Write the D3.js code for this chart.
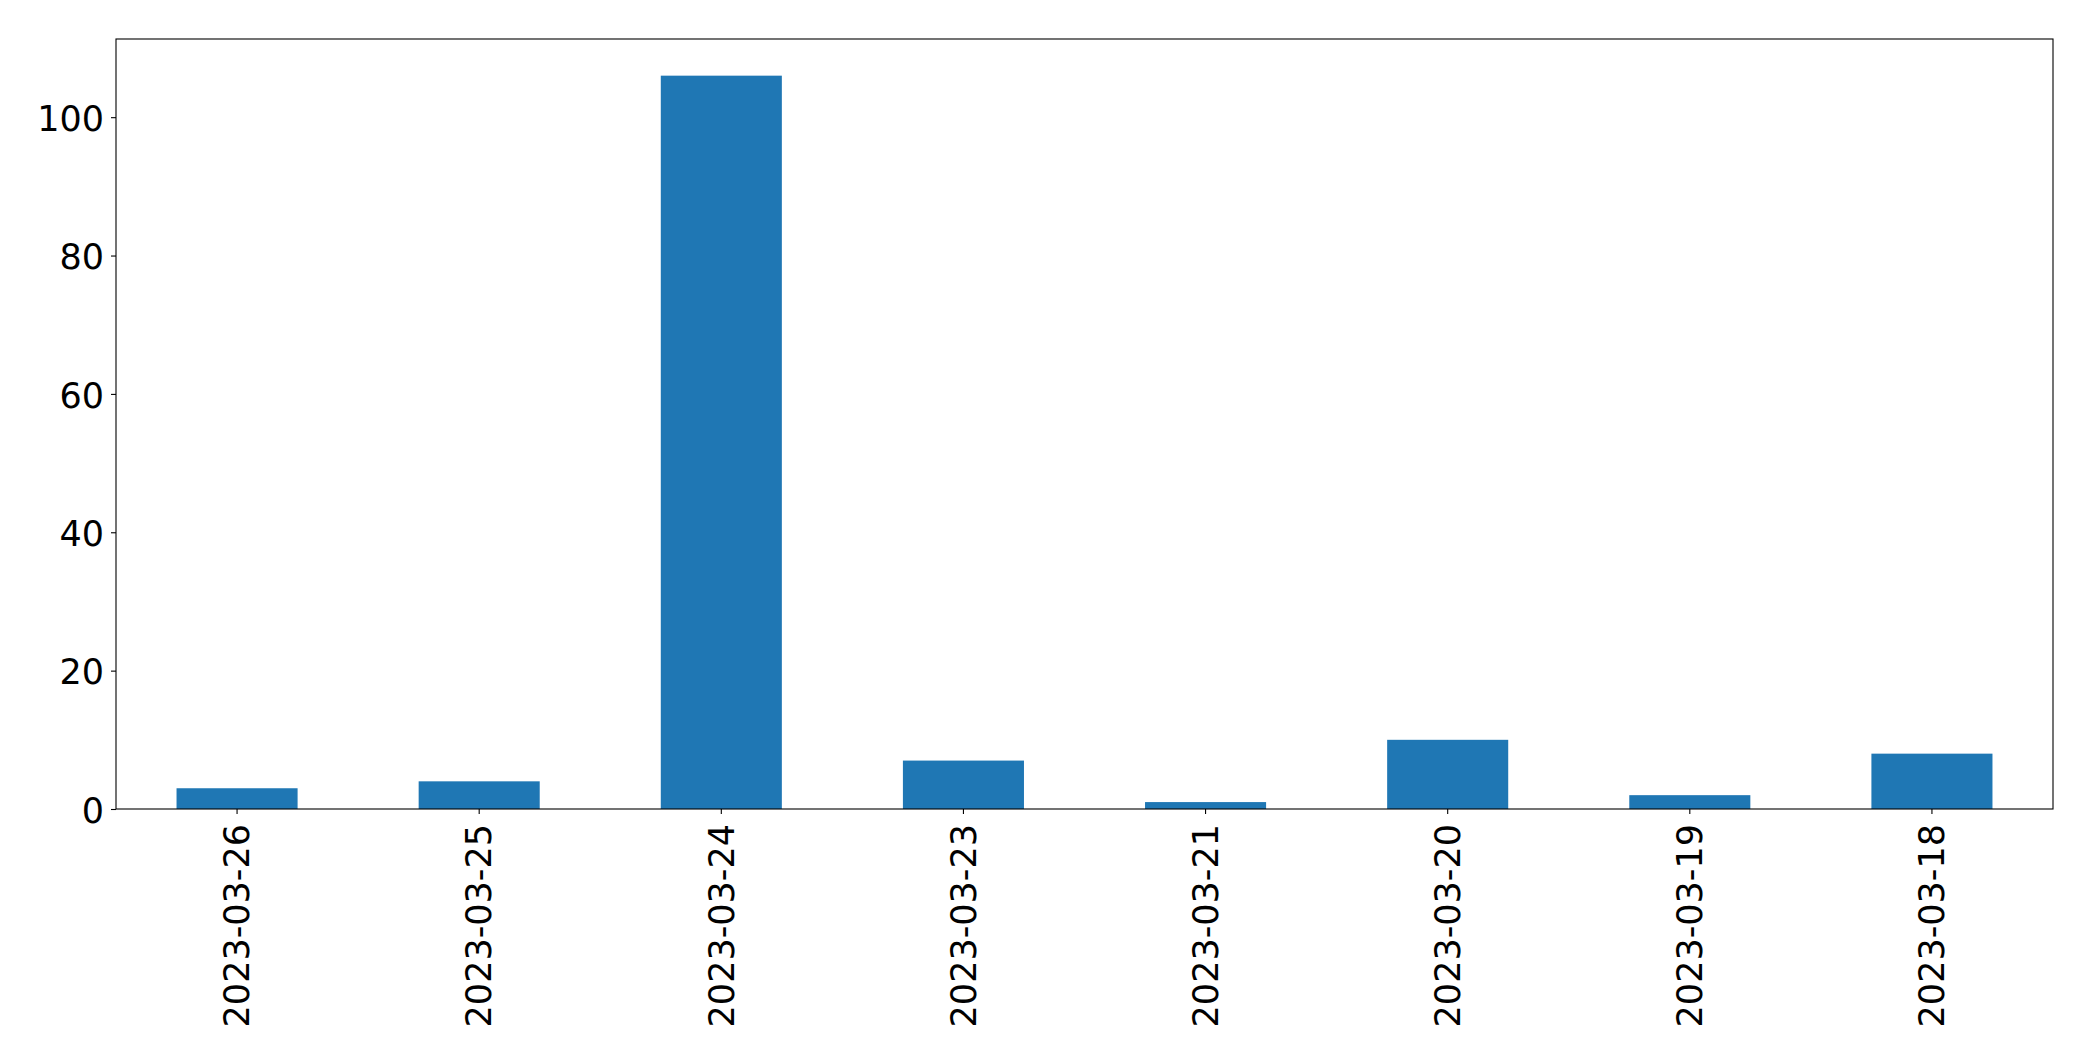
<!DOCTYPE html>
<html>
<head>
<meta charset="utf-8">
<script src="https://cdn.jsdelivr.net/npm/d3@7"></script>
<style>
  html, body { margin: 0; padding: 0; background: #fff; }
  svg { display: block; }
</style>
</head>
<body>
<script>
const categories = ["2023-03-26", "2023-03-25", "2023-03-24", "2023-03-23", "2023-03-21", "2023-03-20", "2023-03-19", "2023-03-18"];
const values = [3, 4, 106, 7, 1, 10, 2, 8];
const yTicks = [0, 20, 40, 60, 80, 100];

const W = 2093, H = 1061;
const margin = { left: 116, right: W - 2053, top: 39, bottom: H - 809 };
const fontFamily = "'DejaVu Sans', sans-serif";
const fontSize = 35;

const svg = d3.select("body").append("svg").attr("width", W).attr("height", H);

const x = d3.scaleBand().domain(categories)
  .range([margin.left, W - margin.right])
  .paddingInner(0.5).paddingOuter(0.25);
const y = d3.scaleLinear().domain([0, d3.max(values) * 1.05])
  .range([H - margin.bottom, margin.top]);

svg.append("g").selectAll("rect").data(categories).join("rect")
  .attr("x", d => x(d))
  .attr("width", x.bandwidth())
  .attr("y", (d, i) => y(values[i]))
  .attr("height", (d, i) => y(0) - y(values[i]))
  .attr("fill", "#1f77b4");

// Frame
svg.append("rect")
  .attr("x", margin.left).attr("y", margin.top)
  .attr("width", W - margin.right - margin.left)
  .attr("height", H - margin.bottom - margin.top)
  .attr("fill", "none").attr("stroke", "#000").attr("stroke-width", 1.1);

// Y axis
const yAxis = svg.append("g").attr("transform", `translate(${margin.left},0)`)
  .call(d3.axisLeft(y).tickValues(yTicks).tickSize(5).tickPadding(7).tickFormat(d3.format("d")));
yAxis.select(".domain").remove();
yAxis.selectAll("line").attr("stroke", "#000").attr("stroke-width", 1.1);
yAxis.selectAll("text").attr("font-family", fontFamily).attr("font-size", fontSize).attr("fill", "#000")
  .attr("dy", "0.38em");

// X axis
const xAxis = svg.append("g").attr("transform", `translate(0,${H - margin.bottom})`)
  .call(d3.axisBottom(x).tickSize(5).tickPadding(0));
xAxis.select(".domain").remove();
xAxis.selectAll("line").attr("stroke", "#000").attr("stroke-width", 1.1);
xAxis.selectAll("text")
  .attr("font-family", fontFamily).attr("font-size", fontSize).attr("fill", "#000")
  .attr("text-anchor", "end")
  .attr("dy", "0.35em")
  .attr("transform", "translate(0,15) rotate(-90)")
  .attr("x", 0).attr("y", 0);
</script>
</body>
</html>
